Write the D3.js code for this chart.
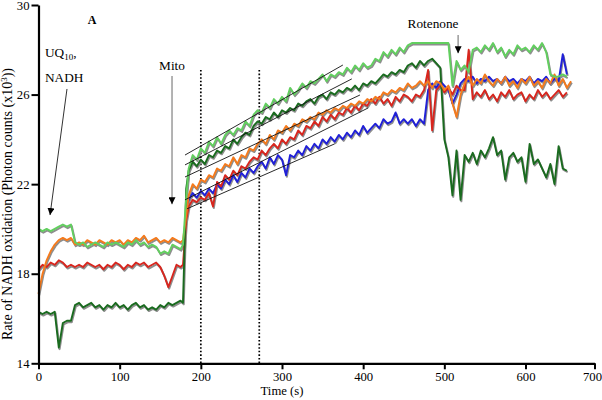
<!DOCTYPE html>
<html><head><meta charset="utf-8">
<script src="https://cdn.jsdelivr.net/npm/d3@7"></script>
<style>
body{margin:0;background:#fff}
svg{display:block}
text{font-family:"Liberation Serif","Times New Roman",serif;fill:#000}
</style>
</head><body>
<svg id="c" width="602" height="400"></svg>
<script>
// ---- data ----
const times=[0,5,10,15,20,25,30,35,40,45,50,55,60,65,70,75,80,85,90,95,100,105,110,115,120,125,130,135,140,145,150,155,160,165,170,175,178,182,
185,190,195,200,205,210,215,220,225,230,235,240,245,250,255,260,265,270,275,280,285,290,295,300,305,310,315,320,325,330,335,340,345,350,355,360,365,370,375,380,
385,390,395,400,405,410,415,420,425,430,435,440,445,450,455,460,465,470,475,480,485,490,495,500,505,510,515,520,525,530,535,540,545,550,555,560,565,570,575,580,
585,590,595,600,606,612,618,624,630,636,642,648,654,660,666];

const lightGreen=[20.0,19.9,20.0,19.9,20.0,20.1,20.2,20.1,20.2,19.4,19.3,19.4,19.2,19.3,19.4,19.3,19.2,19.4,19.3,19.4,19.3,19.2,19.4,19.3,19.5,19.3,19.4,19.2,19.3,19.2,18.9,19.0,18.9,19.3,19.2,19.1,
19.3,21.4,
22.7,23.3,23.1,23.6,23.4,23.9,23.7,24.1,23.8,24.2,
24.4,24.2,24.5,24.4,24.8,24.6,25.1,25.3,25.2,25.6,
25.4,25.8,25.6,25.9,25.7,26.3,26.0,26.2,26.5,26.3,
26.6,26.5,26.7,26.9,26.6,26.9,26.8,27.0,26.9,27.2,
27.0,27.3,27.1,27.4,27.2,27.3,27.6,27.5,27.9,27.7,
28.0,27.8,28.1,27.9,28.2,28.3,28.3,28.3,28.3,28.3,
28.3,28.3,28.3,28.3,28.3,26.4,27.5,27.1,27.3,27.0,
28.0,28.1,27.9,28.2,28.0,28.3,27.9,28.1,27.7,28.0,
27.8,28.2,28.0,28.1,27.9,28.2,28.0,28.3,27.9,26.9,
26.8,26.8,26.9,26.8,null];

const darkGreen=[16.3,16.2,16.3,16.2,16.3,14.7,15.8,15.9,15.9,16.6,16.7,16.5,16.6,16.7,16.5,16.6,16.4,16.6,16.5,16.7,16.5,16.6,16.4,16.6,16.7,16.5,16.6,16.4,16.5,16.4,16.6,16.5,16.7,16.6,16.7,16.8,
16.7,21.8,
22.6,23.0,22.8,23.1,22.9,23.3,23.2,23.5,23.4,23.7,
23.6,24.0,23.8,24.1,24.3,24.2,24.6,24.8,24.7,25.0,
24.9,25.2,25.0,25.3,25.2,25.4,25.3,25.6,25.5,25.7,
25.8,25.6,25.9,26.0,25.8,26.1,26.0,26.2,26.1,26.3,
26.2,26.4,26.2,26.5,26.4,26.6,26.5,26.7,26.9,26.8,
27.0,26.9,27.1,27.0,27.3,27.4,27.2,27.5,27.3,27.5,
27.6,27.4,27.2,24.0,23.2,21.5,23.5,21.3,23.3,23.0,
23.4,22.9,23.5,23.2,23.6,24.1,23.3,23.5,22.2,23.2,
23.4,23.0,23.2,22.1,23.8,22.9,23.1,22.7,22.3,22.9,
22.0,23.7,22.7,22.6,null];

const orange=[17.1,18.0,18.6,19.0,19.3,19.5,19.6,19.5,19.6,19.3,19.4,19.3,19.5,19.4,19.3,19.5,19.4,19.3,19.5,19.4,19.5,19.3,19.5,19.4,19.6,19.5,19.7,19.4,19.5,19.6,19.4,19.5,19.4,19.6,19.5,19.4,
19.5,20.6,
21.5,22.0,21.8,22.2,22.1,22.4,22.3,22.7,22.6,22.9,
22.8,23.2,22.9,23.3,23.2,23.6,23.5,23.8,24.0,23.8,
24.2,24.0,24.4,24.3,24.6,24.4,24.7,24.6,24.9,24.8,
25.0,24.9,25.2,25.1,25.3,25.2,25.4,25.3,25.5,25.4,
25.6,25.5,25.7,25.6,25.8,25.7,25.9,25.8,26.1,26.0,
26.2,26.1,26.3,26.2,26.5,26.3,26.4,26.6,26.4,26.6,
26.3,26.6,26.5,26.2,26.4,25.6,25.0,26.0,26.5,26.8,
26.4,26.7,26.5,26.9,26.6,26.4,26.7,26.5,26.8,26.4,
26.6,26.3,26.7,26.5,26.8,26.4,26.6,26.3,26.7,26.5,
26.9,26.4,26.7,26.3,26.6];

const red=[18.2,18.4,18.3,18.5,18.4,18.6,18.5,18.3,18.4,18.3,18.4,18.3,18.5,18.4,18.3,18.4,18.2,18.4,18.3,18.5,18.4,18.2,18.4,18.3,18.5,18.4,18.5,18.3,18.4,18.5,18.3,17.9,17.4,17.9,18.4,18.3,
18.4,20.4,
21.0,21.3,21.2,21.4,21.3,21.6,21.0,22.1,21.9,22.4,
22.2,22.6,22.4,22.8,22.7,23.0,23.2,23.1,23.5,23.3,
23.6,23.8,23.6,24.0,23.8,24.1,24.0,24.4,24.2,24.6,
24.5,24.8,24.6,25.0,24.8,25.1,24.9,25.2,25.1,25.4,
25.2,25.5,25.3,25.6,25.5,25.8,25.6,25.9,25.6,25.8,
25.5,25.9,25.7,26.0,25.9,25.7,26.0,25.9,26.2,27.1,
24.4,26.2,26.4,26.1,26.3,26.0,26.4,26.2,26.2,28.0,
25.8,26.1,25.9,26.2,25.8,26.0,25.7,26.1,25.9,26.2,
25.8,26.0,26.1,25.7,26.0,25.8,26.2,25.9,26.1,25.8,
26.0,26.2,25.9,26.1,null];

const blue=[null,null,null,null,null,null,null,null,null,null,null,null,null,null,null,null,null,null,null,null,null,null,null,null,null,null,null,null,null,null,null,null,null,null,null,null,
null,21.0,
21.3,21.6,21.4,21.7,21.5,21.8,21.6,22.0,21.8,22.2,
22.0,22.4,22.1,22.5,22.3,22.7,22.5,22.8,23.0,22.7,
23.2,22.9,23.3,23.1,22.4,23.3,23.2,23.5,23.3,23.7,
23.5,23.8,23.6,24.0,23.8,24.1,23.9,24.2,24.0,24.3,
24.1,24.4,24.2,24.6,24.3,24.5,24.7,24.5,24.9,24.7,
24.8,25.2,24.7,24.9,24.7,24.9,24.6,24.9,24.7,26.2,
26.5,26.3,26.6,26.4,26.2,25.6,26.0,26.5,26.7,26.6,
26.8,26.5,26.7,26.6,26.8,26.6,26.7,26.5,26.8,26.6,
26.7,26.5,26.7,26.6,26.8,26.5,26.7,26.6,26.8,26.5,
26.7,26.6,27.8,26.9,null];

const seriesValues=[blue,red,darkGreen,orange,lightGreen];
const seriesColors=["#2020d8","#d8261e","#1a6b1f","#f57a1c","#62cf5f"];

// linear fits (start time, start value, end time, end value)
const fitStartT=[180.5,180.5,180.5,180.5,183];
const fitStartV=[23.30,22.86,22.32,21.30,20.90];
const fitEndT=[375,386,396,406,365];
const fitEndV=[27.32,26.70,25.98,25.40,23.80];

const xTicks=[0,100,200,300,400,500,600,700];
const yTicks=[14,18,22,26,30];
const markerTimes=[200,272];

// ---- drawing ----
const svg=d3.select("#c");
const x=d3.scaleLinear().domain([0,600,700]).range([38.5,525.5,594.5]);
const y=d3.scaleLinear().domain([14,30]).range([363.3,5]);

svg.selectAll(".dot").data(markerTimes).enter().append("line")
  .attr("x1",d=>x(d)).attr("x2",d=>x(d))
  .attr("y1",y(27.1)).attr("y2",y(14))
  .attr("stroke","#000").attr("stroke-width",1.7).attr("stroke-dasharray","1.6,2");

const line=d3.line().defined(d=>d[1]!=null).x(d=>x(d[0])).y(d=>y(d[1]));
const seriesPts=seriesValues.map(v=>times.map((t,j)=>[t,v[j]]));

svg.append("g").selectAll("path").data(seriesPts).enter().append("path")
  .attr("d",line).attr("fill","none").attr("stroke","#8e8e8e")
  .attr("stroke-width",2).attr("stroke-linejoin","round")
  .attr("transform","translate(0.8,1.5)");
svg.append("g").selectAll("path").data(seriesPts).enter().append("path")
  .attr("d",line).attr("fill","none").attr("stroke",(d,i)=>seriesColors[i])
  .attr("stroke-width",1.9).attr("stroke-linejoin","round");

svg.append("g").selectAll("line").data(fitStartT).enter().append("line")
  .attr("x1",(d,i)=>x(fitStartT[i])).attr("y1",(d,i)=>y(fitStartV[i]))
  .attr("x2",(d,i)=>x(fitEndT[i])).attr("y2",(d,i)=>y(fitEndV[i]))
  .attr("stroke","#111").attr("stroke-width",0.9);

const gx=svg.append("g").attr("transform",`translate(0,${y(14)})`)
  .call(d3.axisBottom(x).tickValues(xTicks).tickSize(6).tickPadding(3).tickSizeOuter(0).tickFormat(d3.format("d")));
const gy=svg.append("g").attr("transform",`translate(${x(0)},0)`)
  .call(d3.axisLeft(y).tickValues(yTicks).tickSize(7).tickPadding(2).tickSizeOuter(0).tickFormat(d3.format("d")));
[gx,gy].forEach(g=>{
  g.attr("font-family",'"Liberation Serif","Times New Roman",serif').attr("font-size",12.7);
  g.select(".domain").attr("stroke-width",2.2);
  g.selectAll(".tick line").attr("stroke-width",2);
});
gx.selectAll(".tick text").filter(d=>d===700).attr("dx",-2.5);

svg.append("text").attr("x",282).attr("y",395).attr("text-anchor","middle")
  .attr("font-size",12.7).text("Time (s)");

const yl=svg.append("text").attr("transform","translate(12,204) rotate(-90)")
  .attr("text-anchor","middle").attr("font-size",14);
yl.append("tspan").text("Rate of NADH oxidation (Photon counts (x10");
yl.append("tspan").attr("dy",-5).attr("font-size",9).text("3");
yl.append("tspan").attr("dy",5).text("))");

const defs=svg.append("defs");
defs.append("marker").attr("id","ah").attr("viewBox","0 0 10 10")
  .attr("refX",10).attr("refY",5).attr("markerWidth",7).attr("markerHeight",7)
  .attr("markerUnits","userSpaceOnUse").attr("orient","auto")
  .append("path").attr("d","M0,0L10,5L0,10Z").attr("fill","#000");

svg.append("text").attr("x",92).attr("y",24).attr("text-anchor","middle")
  .attr("font-size",12).attr("font-weight","bold").text("A");

const uq=svg.append("text").attr("x",45).attr("y",57).attr("font-size",13.3);
uq.append("tspan").text("UQ");
uq.append("tspan").attr("dy",3).attr("font-size",9).text("10");
uq.append("tspan").attr("dy",-3).text(",");
svg.append("text").attr("x",45).attr("y",82).attr("font-size",13.3).text("NADH");
svg.append("line").attr("x1",x(35.1)).attr("y1",y(26.25)).attr("x2",x(14.2)).attr("y2",y(20.62))
  .attr("stroke","#333").attr("stroke-width",1).attr("marker-end","url(#ah)");

svg.append("text").attr("x",172).attr("y",70).attr("text-anchor","middle").attr("font-size",13.3).text("Mito");
svg.append("line").attr("x1",x(164.5)).attr("y1",y(26.83)).attr("x2",x(164.5)).attr("y2",y(21.1))
  .attr("stroke","#9a9a9a").attr("stroke-width",1.5).attr("marker-end","url(#ah)");

svg.append("text").attr("x",433).attr("y",28).attr("text-anchor","middle").attr("font-size",13.3).text("Rotenone");
svg.append("line").attr("x1",x(517)).attr("y1",y(28.66)).attr("x2",x(517)).attr("y2",y(27.84))
  .attr("stroke","#9a9a9a").attr("stroke-width",1.5).attr("marker-end","url(#ah)");
</script>
</body></html>
